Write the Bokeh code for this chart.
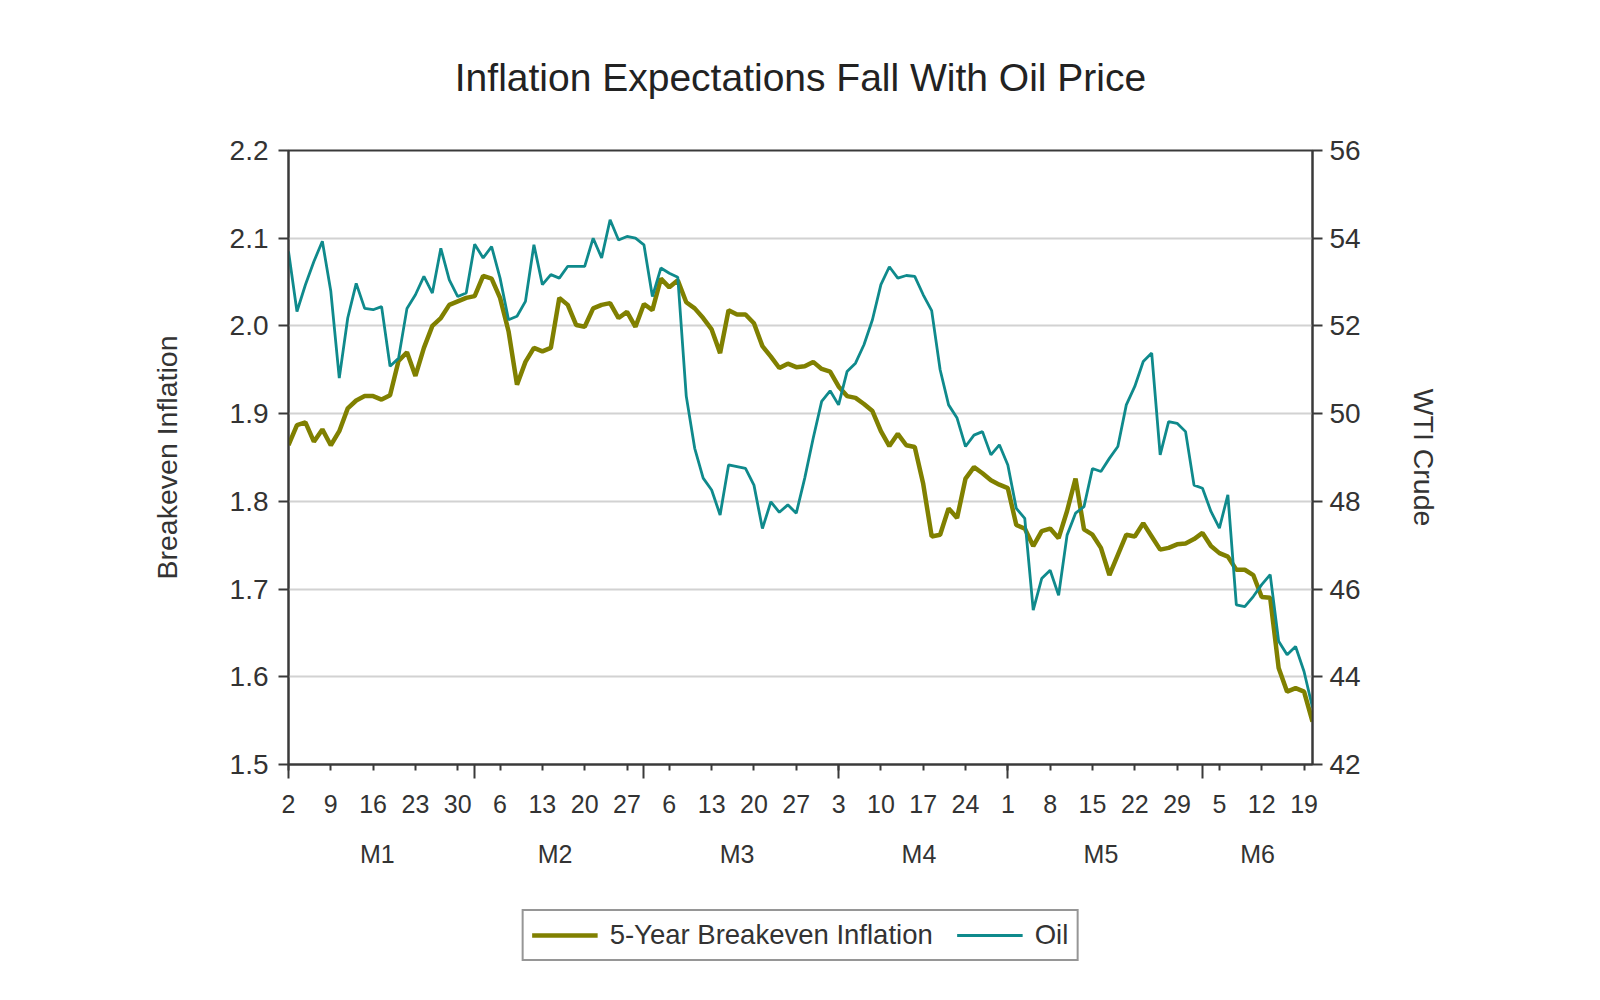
import numpy as np
import pandas as pd
from bokeh.plotting import figure
from bokeh.layouts import column
from bokeh.models import (Range1d, LinearAxis, FixedTicker, Legend, LegendItem,
                          ColumnDataSource)
from bokeh.embed import file_html
from bokeh.resources import INLINE

# ---------------- data ----------------
start_date = "2017-01-02"
end_date = "2017-06-20"

breakeven = [
    1.864, 1.887, 1.890, 1.868, 1.882, 1.864, 1.880, 1.906, 1.915, 1.920,
    1.920, 1.916, 1.921, 1.960, 1.970, 1.943, 1.975, 2.000, 2.009, 2.024,
    2.028, 2.032, 2.034, 2.057, 2.054, 2.032, 1.994, 1.933, 1.959, 1.975,
    1.971, 1.975, 2.032, 2.024, 2.001, 1.999, 2.020, 2.024, 2.026, 2.009,
    2.016, 1.999, 2.025, 2.018, 2.054, 2.044, 2.052, 2.027, 2.020, 2.009,
    1.996, 1.969, 2.018, 2.013, 2.013, 2.003, 1.977, 1.965, 1.952, 1.957,
    1.953, 1.954, 1.959, 1.951, 1.948, 1.931, 1.920, 1.918, 1.911, 1.903,
    1.880, 1.863, 1.877, 1.864, 1.862, 1.820, 1.760, 1.762, 1.792, 1.781,
    1.826, 1.839, 1.832, 1.824, 1.819, 1.815, 1.773, 1.769, 1.749, 1.766,
    1.769, 1.758, 1.789, 1.826, 1.768, 1.762, 1.747, 1.716, 1.739, 1.762,
    1.760, 1.775, 1.760, 1.745, 1.747, 1.751, 1.752, 1.757, 1.764, 1.749,
    1.741, 1.737, 1.722, 1.722, 1.716, 1.691, 1.690, 1.610, 1.583, 1.587,
    1.583, 1.549,
]

oil = [
    53.70, 52.33, 52.94, 53.47, 53.93, 52.79, 50.81, 52.18, 52.97, 52.40,
    52.37, 52.44, 51.08, 51.26, 52.40, 52.71, 53.13, 52.75, 53.77, 53.05,
    52.67, 52.75, 53.86, 53.55, 53.81, 53.09, 52.14, 52.22, 52.56, 53.85,
    52.94, 53.17, 53.09, 53.36, 53.36, 53.36, 54.00, 53.55, 54.42, 53.96,
    54.04, 54.00, 53.85, 52.67, 53.32, 53.20, 53.11, 50.40, 49.21, 48.53,
    48.26, 47.69, 48.83, 48.79, 48.75, 48.37, 47.38, 47.99, 47.75, 47.92,
    47.73, 48.53, 49.44, 50.28, 50.52, 50.20, 50.96, 51.15, 51.57, 52.14,
    52.94, 53.35, 53.09, 53.15, 53.13, 52.71, 52.35, 51.00, 50.20, 49.90,
    49.25, 49.51, 49.59, 49.06, 49.29, 48.83, 47.84, 47.61, 45.52, 46.24,
    46.43, 45.86, 47.23, 47.73, 47.88, 48.75, 48.68, 48.98, 49.25, 50.20,
    50.62, 51.19, 51.38, 49.06, 49.82, 49.78, 49.59, 48.37, 48.30, 47.77,
    47.39, 48.15, 45.64, 45.60, 45.83, 46.10, 46.33, 44.81, 44.50, 44.69,
    44.12, 43.30,
]

month_labels = ["M1", "M2", "M3", "M4", "M5", "M6"]
left_ticks = [1.5, 1.6, 1.7, 1.8, 1.9, 2.0, 2.1, 2.2]
right_ticks = [42, 44, 46, 48, 50, 52, 54, 56]

title_text = "Inflation Expectations Fall With Oil Price"
left_label = "Breakeven Inflation"
right_label = "WTI Crude"
series_names = ["5-Year Breakeven Inflation", "Oil"]

# ---------------- derived axis positions ----------------
dates = pd.bdate_range(start_date, end_date)
idx = np.arange(len(dates))
mondays = [int(i) for i in idx if dates[i].weekday() == 0]
monday_labels = {i: str(dates[i].day) for i in mondays}
month_starts = [int(i) for i in idx if i == 0 or dates[i].month != dates[i - 1].month]
month_centers = []
for m in sorted(set(dates.month)):
    sel = idx[dates.month == m]
    month_centers.append(float(sel.mean()))
month_overrides = {c: lab for c, lab in zip(month_centers, month_labels)}

src = ColumnDataSource(dict(x=idx, be=breakeven, oil=oil))

FONT = "Liberation Sans"
TXT = "#333333"
AX = "#3a3a3a"
OLIVE = "#808000"
TEAL = "#0f8a8c"
BE_W = 4.5
OIL_W = 2.8

p = figure(frame_width=1024, frame_height=614, output_backend="svg",
           toolbar_location=None,
           x_range=Range1d(0, len(dates) - 1), y_range=Range1d(1.5, 2.2),
           min_border_left=288, min_border_right=272,
           min_border_top=150, min_border_bottom=123)
p.background_fill_color = "white"
p.border_fill_color = "white"
p.outline_line_color = AX
p.outline_line_width = 2

# title
p.title.text = title_text
p.title.align = "center"
p.title.text_font = FONT
p.title.text_font_size = "39px"
p.title.text_font_style = "normal"
p.title.text_color = "#222222"
p.title.standoff = 104

# grid
p.xgrid.visible = False
p.ygrid.ticker = FixedTicker(ticks=left_ticks)
p.ygrid.grid_line_color = "#d2d2d2"
p.ygrid.grid_line_width = 2

# left axis
ya = p.yaxis[0]
ya.ticker = FixedTicker(ticks=left_ticks)
ya.major_label_overrides = {t: f"{t:.1f}" for t in left_ticks}
ya.axis_label = left_label
ya.axis_label_text_font = FONT
ya.axis_label_text_font_size = "28.5px"
ya.axis_label_text_font_style = "normal"
ya.axis_label_text_color = TXT
ya.axis_label_standoff = 44
ya.major_label_text_font = FONT
ya.major_label_text_font_size = "28px"
ya.major_label_text_color = TXT
ya.major_label_standoff = 10
ya.major_tick_out = 10
ya.major_tick_in = 0
ya.minor_tick_line_color = None
ya.axis_line_color = AX
ya.axis_line_width = 2
ya.major_tick_line_color = AX
ya.major_tick_line_width = 2

# right axis
p.extra_y_ranges = {"oil": Range1d(42, 56)}
ra = LinearAxis(y_range_name="oil", ticker=FixedTicker(ticks=right_ticks))
ra.axis_label = right_label
ra.axis_label_text_font = FONT
ra.axis_label_text_font_size = "28.5px"
ra.axis_label_text_font_style = "normal"
ra.axis_label_text_color = TXT
ra.axis_label_standoff = 44
ra.major_label_text_font = FONT
ra.major_label_text_font_size = "28px"
ra.major_label_text_color = TXT
ra.major_label_standoff = 7
ra.major_tick_out = 10
ra.major_tick_in = 0
ra.minor_tick_line_color = None
ra.axis_line_color = AX
ra.axis_line_width = 2
ra.major_tick_line_color = AX
ra.major_tick_line_width = 2
p.add_layout(ra, "right")

# bottom axis: weekly labels, longer ticks at month starts
xa = p.xaxis[0]
xa.ticker = FixedTicker(ticks=mondays, minor_ticks=month_starts)
xa.major_label_overrides = monday_labels
xa.major_label_text_font = FONT
xa.major_label_text_font_size = "25px"
xa.major_label_text_color = TXT
xa.major_label_standoff = 16
xa.major_tick_out = 6
xa.major_tick_in = 0
xa.minor_tick_out = 14
xa.minor_tick_in = 0
xa.axis_line_color = AX
xa.axis_line_width = 2
xa.major_tick_line_color = AX
xa.major_tick_line_width = 2
xa.minor_tick_line_color = AX
xa.minor_tick_line_width = 2

# month label row
ma = LinearAxis(ticker=FixedTicker(ticks=month_centers))
ma.major_label_overrides = month_overrides
ma.major_label_text_font = FONT
ma.major_label_text_font_size = "25px"
ma.major_label_text_color = TXT
ma.major_label_standoff = 24
ma.axis_line_color = None
ma.major_tick_line_color = None
ma.minor_tick_line_color = None
ma.major_tick_out = 0
ma.major_tick_in = 0
p.add_layout(ma, "below")

# lines
p.line("x", "be", source=src, line_color=OLIVE, line_width=BE_W)
p.line("x", "oil", source=src, line_color=TEAL, line_width=OIL_W,
       y_range_name="oil")

# ---------------- legend strip below the chart ----------------
# Same series, drawn into a view window that lies off the data, so only the
# legend (with its line samples) is visible in this strip.
lg = figure(width=288 + 1024 + 272, height=96, output_backend="svg",
            toolbar_location=None, min_border=0,
            x_axis_location=None, y_axis_location=None,
            x_range=Range1d(-3, -2), y_range=Range1d(0, 1))
lg.outline_line_color = None
lg.grid.visible = False
lg.background_fill_color = "white"
lg.border_fill_color = "white"
k_be = lg.line("x", "be", source=src, line_color=OLIVE, line_width=BE_W)
k_oil = lg.line("x", "oil", source=src, line_color=TEAL, line_width=OIL_W)

legend = Legend(items=[LegendItem(label=series_names[0], renderers=[k_be]),
                       LegendItem(label=series_names[1], renderers=[k_oil])],
                orientation="horizontal", location="center")
legend.label_text_font = FONT
legend.label_text_font_size = "27.5px"
legend.label_text_color = TXT
legend.border_line_color = "#2e2e2e"
legend.border_line_width = 2
legend.background_fill_color = "white"
legend.glyph_width = 66
legend.glyph_height = 20
legend.label_standoff = 12
legend.spacing = 24
legend.padding = 8
legend.margin = 0
lg.add_layout(legend, "center")

layout = column(p, lg, spacing=0)
open("out.html", "w").write(file_html(layout, INLINE))
